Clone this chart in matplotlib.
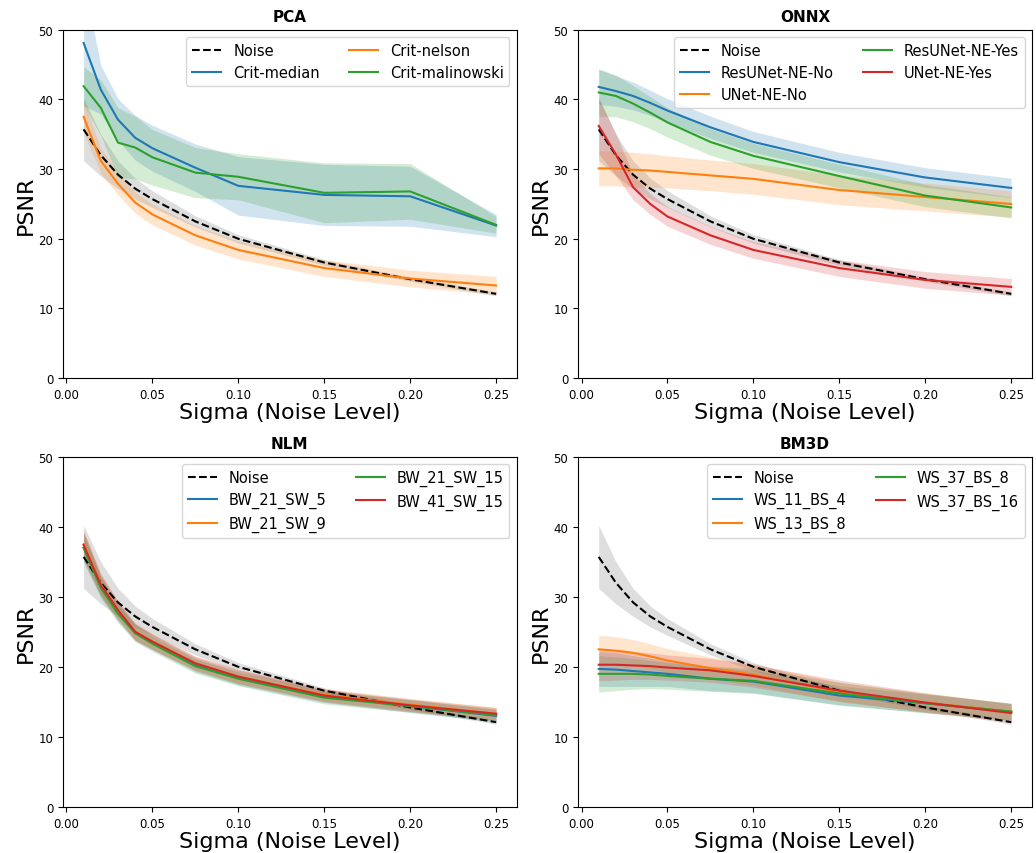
import matplotlib
matplotlib.use('Agg')
import matplotlib.pyplot as plt
import numpy as np

# noise levels used for all methods
sigma = [0.01, 0.02, 0.03, 0.04, 0.05, 0.075, 0.1, 0.15, 0.2, 0.25]

# PSNR of the noisy images (mean and std)
noise_mean = [35.7, 32.0, 29.2, 27.2, 25.7, 22.5, 20.0, 16.6, 14.2, 12.1]
noise_std = [4.5, 3.0, 2.0, 1.5, 1.2, 0.8, 0.6, 0.4, 0.3, 0.3]

# PCA
pca_labels = ['Crit-median', 'Crit-nelson', 'Crit-malinowski']
pca_mean = [
    [48.1, 41.4, 37.1, 34.5, 33.0, 30.2, 27.6, 26.3, 26.1, 21.9],
    [37.5, 31.2, 27.9, 25.2, 23.5, 20.5, 18.4, 15.8, 14.3, 13.3],
    [41.9, 38.8, 33.8, 33.1, 31.7, 29.5, 28.9, 26.6, 26.8, 22.0],
]
pca_std = [
    [9.0, 3.5, 3.0, 3.2, 3.3, 3.4, 4.2, 4.4, 4.3, 1.6],
    [2.3, 1.8, 1.6, 1.5, 1.5, 1.4, 1.3, 1.2, 1.2, 1.3],
    [2.8, 4.0, 5.0, 4.5, 4.0, 3.6, 3.3, 4.3, 4.0, 1.2],
]

# ONNX
onnx_labels = ['ResUNet-NE-No', 'UNet-NE-No', 'ResUNet-NE-Yes', 'UNet-NE-Yes']
onnx_mean = [
    [41.8, 41.2, 40.5, 39.5, 38.4, 36.0, 33.9, 31.0, 28.8, 27.3],
    [30.1, 30.1, 29.9, 29.8, 29.6, 29.1, 28.6, 27.0, 26.0, 25.0],
    [41.0, 40.5, 39.4, 38.1, 36.7, 33.9, 31.9, 29.0, 26.2, 24.5],
    [36.2, 32.1, 27.4, 25.0, 23.2, 20.5, 18.4, 15.8, 14.1, 13.1],
]
onnx_std = [
    [2.5, 2.2, 2.0, 1.8, 1.7, 1.6, 1.5, 1.4, 1.4, 1.4],
    [2.5, 2.5, 2.5, 2.4, 2.3, 2.2, 2.2, 2.1, 2.0, 1.9],
    [3.4, 3.0, 2.6, 2.3, 2.1, 1.9, 1.8, 1.7, 1.6, 1.5],
    [4.0, 3.0, 1.8, 1.5, 1.4, 1.3, 1.2, 1.2, 1.2, 1.2],
]

# NLM
nlm_labels = ['BW_21_SW_5', 'BW_21_SW_9', 'BW_21_SW_15', 'BW_41_SW_15']
nlm_mean = [
    [37.0, 31.5, 27.8, 24.9, 23.5, 20.3, 18.4, 15.8, 14.4, 13.0],
    [37.5, 31.8, 28.0, 25.0, 23.6, 20.5, 18.6, 16.0, 14.6, 13.3],
    [37.0, 31.3, 27.6, 24.8, 23.3, 20.1, 18.3, 15.6, 14.4, 13.1],
    [37.4, 31.7, 28.1, 25.0, 23.6, 20.5, 18.6, 15.9, 14.5, 13.3],
]
nlm_std = [
    [2.0, 1.5, 1.3, 1.2, 1.1, 1.0, 1.0, 0.9, 0.9, 0.9],
    [2.0, 1.5, 1.3, 1.2, 1.1, 1.0, 1.0, 0.9, 0.9, 0.9],
    [2.0, 1.5, 1.3, 1.2, 1.1, 1.0, 1.0, 0.9, 0.9, 0.9],
    [2.0, 1.5, 1.3, 1.2, 1.1, 1.0, 1.0, 0.9, 0.9, 0.9],
]

# BM3D
bm3d_labels = ['WS_11_BS_4', 'WS_13_BS_8', 'WS_37_BS_8', 'WS_37_BS_16']
bm3d_mean = [
    [19.7, 19.6, 19.4, 19.2, 19.0, 18.3, 17.9, 15.9, 14.8, 13.6],
    [22.5, 22.3, 22.0, 21.5, 20.9, 19.8, 18.9, 16.4, 14.9, 13.6],
    [19.0, 19.0, 19.0, 18.9, 18.7, 18.3, 18.0, 16.2, 14.8, 13.6],
    [20.3, 20.3, 20.2, 20.1, 19.9, 19.5, 18.7, 16.6, 14.9, 13.4],
]
bm3d_std = [
    [2.5, 2.4, 2.2, 2.0, 1.8, 1.7, 1.6, 1.4, 1.3, 1.2],
    [2.0, 2.0, 1.9, 1.8, 1.7, 1.6, 1.5, 1.4, 1.3, 1.2],
    [2.6, 2.4, 2.2, 2.0, 1.9, 1.8, 1.8, 1.6, 1.4, 1.2],
    [2.3, 2.2, 2.0, 1.9, 1.8, 1.7, 1.6, 1.5, 1.4, 1.3],
]

colors = ['tab:blue', 'tab:orange', 'tab:green', 'tab:red']


def panel(ax, title, labels, means, stds):
    x = np.array(sigma)
    nm = np.array(noise_mean)
    ns = np.array(noise_std)
    ax.plot(x, nm, 'k--', lw=1.5, label='Noise')
    ax.fill_between(x, nm - ns, nm + ns, color='black', alpha=0.13, lw=0)
    for lab, m, s, c in zip(labels, means, stds, colors):
        m = np.array(m)
        s = np.array(s)
        ax.plot(x, m, color=c, lw=1.5, label=lab)
        ax.fill_between(x, m - s, m + s, color=c, alpha=0.2, lw=0)
    ax.set_ylim(0, 50)
    ax.set_title(title, fontsize=11, fontweight='bold')
    ax.set_xlabel('Sigma (Noise Level)', fontsize=16, labelpad=1)
    ax.set_ylabel('PSNR', fontsize=16, labelpad=2)
    ax.tick_params(labelsize=8.5)
    ax.legend(loc='upper right', ncol=2, fontsize=10.5)


fig = plt.figure(figsize=(10.36, 8.54), dpi=100)
ax1 = fig.add_axes([0.0608, 0.556, 0.438, 0.408])
ax2 = fig.add_axes([0.558, 0.556, 0.438, 0.408])
ax3 = fig.add_axes([0.0608, 0.054, 0.438, 0.41])
ax4 = fig.add_axes([0.558, 0.054, 0.438, 0.41])

panel(ax1, 'PCA', pca_labels, pca_mean, pca_std)
panel(ax2, 'ONNX', onnx_labels, onnx_mean, onnx_std)
panel(ax3, 'NLM', nlm_labels, nlm_mean, nlm_std)
panel(ax4, 'BM3D', bm3d_labels, bm3d_mean, bm3d_std)

fig.savefig('out.png', dpi=100)
